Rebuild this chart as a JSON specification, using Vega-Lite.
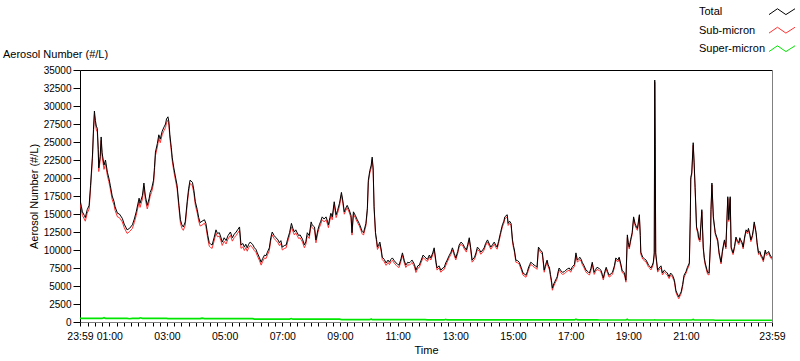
{
"$schema":"https://vega.github.io/schema/vega-lite/v6.json",
"width":692,"height":252,"autosize":"none",
"padding":{"left":80,"top":70,"right":28,"bottom":39},
"background":"#ffffff",
"title":{"text":"Aerosol Number (#/L)","anchor":"start","frame":"group","dx":-77,"offset":0,"dy":55,"fontSize":11,"fontWeight":"normal","font":"Liberation Sans","color":"#000000"},
"config":{"font":"Liberation Sans","view":{"stroke":null},"axis":{"labelFont":"Liberation Sans","titleFont":"Liberation Sans","labelColor":"#000000","titleColor":"#000000","tickColor":"#000000","grid":false}},
"data":{"values":[
{"time":"2000-01-01T23:59","total":17000,"sub":16500,"super":500},
{"time":"2000-01-02T00:02","total":16000,"sub":15500,"super":500},
{"time":"2000-01-02T00:04","total":15300,"sub":14800,"super":500},
{"time":"2000-01-02T00:08","total":14800,"sub":14300,"super":500},
{"time":"2000-01-02T00:10","total":14500,"sub":14000,"super":500},
{"time":"2000-01-02T00:14","total":15600,"sub":15100,"super":500},
{"time":"2000-01-02T00:18","total":16200,"sub":15700,"super":500},
{"time":"2000-01-02T00:21","total":19000,"sub":18500,"super":500},
{"time":"2000-01-02T00:25","total":23200,"sub":22700,"super":500},
{"time":"2000-01-02T00:27","total":26700,"sub":26200,"super":500},
{"time":"2000-01-02T00:29","total":29300,"sub":28800,"super":500},
{"time":"2000-01-02T00:31","total":28000,"sub":27500,"super":500},
{"time":"2000-01-02T00:33","total":27200,"sub":26700,"super":500},
{"time":"2000-01-02T00:35","total":26900,"sub":26400,"super":500},
{"time":"2000-01-02T00:37","total":24000,"sub":23500,"super":500},
{"time":"2000-01-02T00:38","total":21400,"sub":20900,"super":500},
{"time":"2000-01-02T00:41","total":23000,"sub":22500,"super":500},
{"time":"2000-01-02T00:43","total":25700,"sub":25200,"super":500},
{"time":"2000-01-02T00:45","total":23500,"sub":23000,"super":500},
{"time":"2000-01-02T00:49","total":21800,"sub":21200,"super":600},
{"time":"2000-01-02T00:52","total":22500,"sub":22000,"super":500},
{"time":"2000-01-02T00:56","total":20800,"sub":20300,"super":500},
{"time":"2000-01-02T00:59","total":20000,"sub":19500,"super":500},
{"time":"2000-01-02T01:02","total":19000,"sub":18500,"super":500},
{"time":"2000-01-02T01:06","total":17500,"sub":17000,"super":500},
{"time":"2000-01-02T01:10","total":16700,"sub":16200,"super":500},
{"time":"2000-01-02T01:12","total":16000,"sub":15500,"super":500},
{"time":"2000-01-02T01:17","total":15100,"sub":14600,"super":500},
{"time":"2000-01-02T01:21","total":15000,"sub":14500,"super":500},
{"time":"2000-01-02T01:27","total":14400,"sub":13900,"super":500},
{"time":"2000-01-02T01:31","total":13600,"sub":13100,"super":500},
{"time":"2000-01-02T01:37","total":12800,"sub":12300,"super":500},
{"time":"2000-01-02T01:42","total":13000,"sub":12550,"super":450},
{"time":"2000-01-02T01:48","total":13500,"sub":13000,"super":500},
{"time":"2000-01-02T01:52","total":14300,"sub":13800,"super":500},
{"time":"2000-01-02T01:56","total":15300,"sub":14800,"super":500},
{"time":"2000-01-02T02:02","total":17200,"sub":16700,"super":500},
{"time":"2000-01-02T02:04","total":16500,"sub":15920,"super":580},
{"time":"2000-01-02T02:09","total":17600,"sub":17100,"super":500},
{"time":"2000-01-02T02:12","total":19300,"sub":18800,"super":500},
{"time":"2000-01-02T02:15","total":17500,"sub":17000,"super":500},
{"time":"2000-01-02T02:19","total":16200,"sub":15700,"super":500},
{"time":"2000-01-02T02:23","total":17200,"sub":16700,"super":500},
{"time":"2000-01-02T02:25","total":18000,"sub":17500,"super":500},
{"time":"2000-01-02T02:28","total":18500,"sub":18000,"super":500},
{"time":"2000-01-02T02:32","total":19700,"sub":19200,"super":500},
{"time":"2000-01-02T02:34","total":21500,"sub":21000,"super":500},
{"time":"2000-01-02T02:36","total":23600,"sub":23100,"super":500},
{"time":"2000-01-02T02:40","total":24800,"sub":24300,"super":500},
{"time":"2000-01-02T02:43","total":26000,"sub":25500,"super":500},
{"time":"2000-01-02T02:46","total":25400,"sub":24900,"super":500},
{"time":"2000-01-02T02:50","total":26500,"sub":26000,"super":500},
{"time":"2000-01-02T02:54","total":27100,"sub":26600,"super":500},
{"time":"2000-01-02T02:57","total":27500,"sub":27000,"super":500},
{"time":"2000-01-02T02:59","total":28200,"sub":27700,"super":500},
{"time":"2000-01-02T03:02","total":28500,"sub":28030,"super":470},
{"time":"2000-01-02T03:04","total":27800,"sub":27330,"super":470},
{"time":"2000-01-02T03:06","total":26000,"sub":25530,"super":470},
{"time":"2000-01-02T03:09","total":24200,"sub":23730,"super":470},
{"time":"2000-01-02T03:11","total":22800,"sub":22330,"super":470},
{"time":"2000-01-02T03:14","total":21500,"sub":21030,"super":470},
{"time":"2000-01-02T03:17","total":20400,"sub":19930,"super":470},
{"time":"2000-01-02T03:21","total":19000,"sub":18530,"super":470},
{"time":"2000-01-02T03:25","total":16200,"sub":15730,"super":470},
{"time":"2000-01-02T03:28","total":14200,"sub":13730,"super":470},
{"time":"2000-01-02T03:31","total":13500,"sub":13030,"super":470},
{"time":"2000-01-02T03:34","total":13200,"sub":12730,"super":470},
{"time":"2000-01-02T03:38","total":13900,"sub":13430,"super":470},
{"time":"2000-01-02T03:42","total":16700,"sub":16230,"super":470},
{"time":"2000-01-02T03:45","total":18500,"sub":18030,"super":470},
{"time":"2000-01-02T03:48","total":19700,"sub":19230,"super":470},
{"time":"2000-01-02T03:53","total":19400,"sub":18930,"super":470},
{"time":"2000-01-02T03:56","total":18300,"sub":17830,"super":470},
{"time":"2000-01-02T03:59","total":16700,"sub":16230,"super":470},
{"time":"2000-01-02T04:03","total":15600,"sub":15130,"super":470},
{"time":"2000-01-02T04:06","total":14500,"sub":14030,"super":470},
{"time":"2000-01-02T04:09","total":13800,"sub":13330,"super":470},
{"time":"2000-01-02T04:13","total":14000,"sub":13460,"super":540},
{"time":"2000-01-02T04:18","total":14200,"sub":13730,"super":470},
{"time":"2000-01-02T04:21","total":13700,"sub":13230,"super":470},
{"time":"2000-01-02T04:25","total":12000,"sub":11530,"super":470},
{"time":"2000-01-02T04:28","total":11000,"sub":10530,"super":470},
{"time":"2000-01-02T04:31","total":10800,"sub":10330,"super":470},
{"time":"2000-01-02T04:34","total":10700,"sub":10230,"super":470},
{"time":"2000-01-02T04:38","total":11700,"sub":11230,"super":470},
{"time":"2000-01-02T04:42","total":12800,"sub":12330,"super":470},
{"time":"2000-01-02T04:45","total":12300,"sub":11830,"super":470},
{"time":"2000-01-02T04:49","total":12400,"sub":11930,"super":470},
{"time":"2000-01-02T04:52","total":11800,"sub":11330,"super":470},
{"time":"2000-01-02T04:55","total":11100,"sub":10630,"super":470},
{"time":"2000-01-02T04:59","total":11700,"sub":11230,"super":470},
{"time":"2000-01-02T05:03","total":11300,"sub":10830,"super":470},
{"time":"2000-01-02T05:07","total":12000,"sub":11530,"super":470},
{"time":"2000-01-02T05:12","total":12500,"sub":12030,"super":470},
{"time":"2000-01-02T05:16","total":11700,"sub":11230,"super":470},
{"time":"2000-01-02T05:20","total":12200,"sub":11730,"super":470},
{"time":"2000-01-02T05:24","total":12500,"sub":12030,"super":470},
{"time":"2000-01-02T05:27","total":12800,"sub":12330,"super":470},
{"time":"2000-01-02T05:31","total":13200,"sub":12730,"super":470},
{"time":"2000-01-02T05:34","total":10700,"sub":10230,"super":470},
{"time":"2000-01-02T05:38","total":10900,"sub":10430,"super":470},
{"time":"2000-01-02T05:41","total":10400,"sub":9930,"super":470},
{"time":"2000-01-02T05:44","total":10800,"sub":10330,"super":470},
{"time":"2000-01-02T05:47","total":10300,"sub":9830,"super":470},
{"time":"2000-01-02T05:50","total":10800,"sub":10330,"super":470},
{"time":"2000-01-02T05:53","total":11100,"sub":10630,"super":470},
{"time":"2000-01-02T05:58","total":10800,"sub":10330,"super":470},
{"time":"2000-01-02T06:02","total":10300,"sub":9900,"super":400},
{"time":"2000-01-02T06:05","total":10100,"sub":9700,"super":400},
{"time":"2000-01-02T06:08","total":9600,"sub":9200,"super":400},
{"time":"2000-01-02T06:12","total":9000,"sub":8600,"super":400},
{"time":"2000-01-02T06:16","total":8300,"sub":7900,"super":400},
{"time":"2000-01-02T06:19","total":8800,"sub":8400,"super":400},
{"time":"2000-01-02T06:23","total":9300,"sub":8900,"super":400},
{"time":"2000-01-02T06:26","total":9200,"sub":8800,"super":400},
{"time":"2000-01-02T06:29","total":9700,"sub":9300,"super":400},
{"time":"2000-01-02T06:33","total":10300,"sub":9900,"super":400},
{"time":"2000-01-02T06:36","total":11700,"sub":11300,"super":400},
{"time":"2000-01-02T06:39","total":12500,"sub":12100,"super":400},
{"time":"2000-01-02T06:43","total":12000,"sub":11600,"super":400},
{"time":"2000-01-02T06:47","total":11700,"sub":11300,"super":400},
{"time":"2000-01-02T06:51","total":11400,"sub":11000,"super":400},
{"time":"2000-01-02T06:54","total":11000,"sub":10600,"super":400},
{"time":"2000-01-02T06:57","total":11300,"sub":10900,"super":400},
{"time":"2000-01-02T07:00","total":10400,"sub":10000,"super":400},
{"time":"2000-01-02T07:04","total":10600,"sub":10200,"super":400},
{"time":"2000-01-02T07:08","total":10700,"sub":10300,"super":400},
{"time":"2000-01-02T07:11","total":11500,"sub":11100,"super":400},
{"time":"2000-01-02T07:15","total":12400,"sub":12000,"super":400},
{"time":"2000-01-02T07:19","total":13700,"sub":13220,"super":480},
{"time":"2000-01-02T07:22","total":13000,"sub":12600,"super":400},
{"time":"2000-01-02T07:25","total":12500,"sub":12100,"super":400},
{"time":"2000-01-02T07:28","total":12800,"sub":12400,"super":400},
{"time":"2000-01-02T07:31","total":12400,"sub":12000,"super":400},
{"time":"2000-01-02T07:34","total":12000,"sub":11600,"super":400},
{"time":"2000-01-02T07:37","total":12100,"sub":11700,"super":400},
{"time":"2000-01-02T07:42","total":11500,"sub":11100,"super":400},
{"time":"2000-01-02T07:46","total":10700,"sub":10300,"super":400},
{"time":"2000-01-02T07:49","total":11200,"sub":10800,"super":400},
{"time":"2000-01-02T07:52","total":12400,"sub":12000,"super":400},
{"time":"2000-01-02T07:56","total":12000,"sub":11600,"super":400},
{"time":"2000-01-02T08:00","total":13900,"sub":13500,"super":400},
{"time":"2000-01-02T08:02","total":13500,"sub":13100,"super":400},
{"time":"2000-01-02T08:07","total":13200,"sub":12800,"super":400},
{"time":"2000-01-02T08:10","total":11400,"sub":11000,"super":400},
{"time":"2000-01-02T08:14","total":12800,"sub":12400,"super":400},
{"time":"2000-01-02T08:17","total":13500,"sub":13100,"super":400},
{"time":"2000-01-02T08:20","total":14000,"sub":13600,"super":400},
{"time":"2000-01-02T08:23","total":14600,"sub":14200,"super":400},
{"time":"2000-01-02T08:27","total":14300,"sub":13900,"super":400},
{"time":"2000-01-02T08:31","total":14600,"sub":14200,"super":400},
{"time":"2000-01-02T08:34","total":14000,"sub":13600,"super":400},
{"time":"2000-01-02T08:36","total":13500,"sub":13100,"super":400},
{"time":"2000-01-02T08:39","total":14500,"sub":14100,"super":400},
{"time":"2000-01-02T08:41","total":15100,"sub":14700,"super":400},
{"time":"2000-01-02T08:44","total":14600,"sub":14200,"super":400},
{"time":"2000-01-02T08:48","total":16700,"sub":16300,"super":400},
{"time":"2000-01-02T08:52","total":14900,"sub":14500,"super":400},
{"time":"2000-01-02T08:55","total":15500,"sub":15100,"super":400},
{"time":"2000-01-02T08:59","total":16500,"sub":16100,"super":400},
{"time":"2000-01-02T09:03","total":18000,"sub":17670,"super":330},
{"time":"2000-01-02T09:06","total":16800,"sub":16470,"super":330},
{"time":"2000-01-02T09:09","total":15300,"sub":14970,"super":330},
{"time":"2000-01-02T09:12","total":15800,"sub":15470,"super":330},
{"time":"2000-01-02T09:15","total":16200,"sub":15870,"super":330},
{"time":"2000-01-02T09:19","total":15600,"sub":15270,"super":330},
{"time":"2000-01-02T09:23","total":14800,"sub":14470,"super":330},
{"time":"2000-01-02T09:25","total":12400,"sub":12070,"super":330},
{"time":"2000-01-02T09:28","total":15300,"sub":14970,"super":330},
{"time":"2000-01-02T09:32","total":14800,"sub":14470,"super":330},
{"time":"2000-01-02T09:36","total":14200,"sub":13870,"super":330},
{"time":"2000-01-02T09:40","total":13700,"sub":13370,"super":330},
{"time":"2000-01-02T09:44","total":13000,"sub":12670,"super":330},
{"time":"2000-01-02T09:46","total":12600,"sub":12270,"super":330},
{"time":"2000-01-02T09:49","total":12400,"sub":12070,"super":330},
{"time":"2000-01-02T09:54","total":13700,"sub":13370,"super":330},
{"time":"2000-01-02T09:57","total":15800,"sub":15470,"super":330},
{"time":"2000-01-02T09:59","total":19700,"sub":19370,"super":330},
{"time":"2000-01-02T10:02","total":21000,"sub":20670,"super":330},
{"time":"2000-01-02T10:05","total":21800,"sub":21380,"super":420},
{"time":"2000-01-02T10:07","total":22900,"sub":22570,"super":330},
{"time":"2000-01-02T10:09","total":21400,"sub":21070,"super":330},
{"time":"2000-01-02T10:11","total":16000,"sub":15670,"super":330},
{"time":"2000-01-02T10:14","total":12400,"sub":12070,"super":330},
{"time":"2000-01-02T10:16","total":11500,"sub":11170,"super":330},
{"time":"2000-01-02T10:18","total":10400,"sub":10070,"super":330},
{"time":"2000-01-02T10:21","total":10800,"sub":10470,"super":330},
{"time":"2000-01-02T10:23","total":11100,"sub":10770,"super":330},
{"time":"2000-01-02T10:26","total":10000,"sub":9670,"super":330},
{"time":"2000-01-02T10:28","total":9000,"sub":8670,"super":330},
{"time":"2000-01-02T10:32","total":8700,"sub":8370,"super":330},
{"time":"2000-01-02T10:36","total":8200,"sub":7870,"super":330},
{"time":"2000-01-02T10:40","total":8600,"sub":8270,"super":330},
{"time":"2000-01-02T10:43","total":8300,"sub":7970,"super":330},
{"time":"2000-01-02T10:46","total":8700,"sub":8370,"super":330},
{"time":"2000-01-02T10:49","total":8900,"sub":8570,"super":330},
{"time":"2000-01-02T10:53","total":8500,"sub":8170,"super":330},
{"time":"2000-01-02T10:57","total":8200,"sub":7870,"super":330},
{"time":"2000-01-02T11:00","total":8000,"sub":7670,"super":330},
{"time":"2000-01-02T11:03","total":7900,"sub":7570,"super":330},
{"time":"2000-01-02T11:07","total":8800,"sub":8470,"super":330},
{"time":"2000-01-02T11:10","total":9600,"sub":9270,"super":330},
{"time":"2000-01-02T11:14","total":8500,"sub":8170,"super":330},
{"time":"2000-01-02T11:17","total":7900,"sub":7570,"super":330},
{"time":"2000-01-02T11:21","total":8300,"sub":7970,"super":330},
{"time":"2000-01-02T11:24","total":8200,"sub":7870,"super":330},
{"time":"2000-01-02T11:27","total":8400,"sub":8070,"super":330},
{"time":"2000-01-02T11:30","total":8600,"sub":8270,"super":330},
{"time":"2000-01-02T11:35","total":8000,"sub":7670,"super":330},
{"time":"2000-01-02T11:38","total":7200,"sub":6870,"super":330},
{"time":"2000-01-02T11:42","total":7800,"sub":7470,"super":330},
{"time":"2000-01-02T11:45","total":7900,"sub":7570,"super":330},
{"time":"2000-01-02T11:49","total":8600,"sub":8270,"super":330},
{"time":"2000-01-02T11:53","total":9300,"sub":8970,"super":330},
{"time":"2000-01-02T11:57","total":9000,"sub":8670,"super":330},
{"time":"2000-01-02T12:02","total":8700,"sub":8410,"super":290},
{"time":"2000-01-02T12:06","total":9300,"sub":9010,"super":290},
{"time":"2000-01-02T12:09","total":8900,"sub":8610,"super":290},
{"time":"2000-01-02T12:13","total":9600,"sub":9310,"super":290},
{"time":"2000-01-02T12:16","total":10300,"sub":10010,"super":290},
{"time":"2000-01-02T12:20","total":8300,"sub":8010,"super":290},
{"time":"2000-01-02T12:22","total":7500,"sub":7210,"super":290},
{"time":"2000-01-02T12:26","total":7800,"sub":7510,"super":290},
{"time":"2000-01-02T12:30","total":7200,"sub":6910,"super":290},
{"time":"2000-01-02T12:34","total":7500,"sub":7210,"super":290},
{"time":"2000-01-02T12:37","total":7600,"sub":7310,"super":290},
{"time":"2000-01-02T12:40","total":8200,"sub":7820,"super":380},
{"time":"2000-01-02T12:43","total":8600,"sub":8310,"super":290},
{"time":"2000-01-02T12:47","total":9200,"sub":8910,"super":290},
{"time":"2000-01-02T12:51","total":9700,"sub":9410,"super":290},
{"time":"2000-01-02T12:54","total":10300,"sub":10010,"super":290},
{"time":"2000-01-02T12:58","total":9500,"sub":9210,"super":290},
{"time":"2000-01-02T13:01","total":8900,"sub":8610,"super":290},
{"time":"2000-01-02T13:05","total":9800,"sub":9510,"super":290},
{"time":"2000-01-02T13:08","total":10700,"sub":10410,"super":290},
{"time":"2000-01-02T13:12","total":11100,"sub":10810,"super":290},
{"time":"2000-01-02T13:16","total":10800,"sub":10510,"super":290},
{"time":"2000-01-02T13:19","total":10400,"sub":10110,"super":290},
{"time":"2000-01-02T13:23","total":10000,"sub":9710,"super":290},
{"time":"2000-01-02T13:26","total":10800,"sub":10510,"super":290},
{"time":"2000-01-02T13:29","total":11700,"sub":11410,"super":290},
{"time":"2000-01-02T13:32","total":10300,"sub":10010,"super":290},
{"time":"2000-01-02T13:35","total":8600,"sub":8310,"super":290},
{"time":"2000-01-02T13:40","total":9000,"sub":8710,"super":290},
{"time":"2000-01-02T13:43","total":9600,"sub":9310,"super":290},
{"time":"2000-01-02T13:46","total":10400,"sub":10110,"super":290},
{"time":"2000-01-02T13:50","total":10100,"sub":9810,"super":290},
{"time":"2000-01-02T13:53","total":9700,"sub":9410,"super":290},
{"time":"2000-01-02T13:57","total":10000,"sub":9710,"super":290},
{"time":"2000-01-02T14:00","total":10300,"sub":10010,"super":290},
{"time":"2000-01-02T14:03","total":10900,"sub":10610,"super":290},
{"time":"2000-01-02T14:07","total":11400,"sub":11110,"super":290},
{"time":"2000-01-02T14:11","total":10800,"sub":10510,"super":290},
{"time":"2000-01-02T14:14","total":10400,"sub":10110,"super":290},
{"time":"2000-01-02T14:18","total":10800,"sub":10510,"super":290},
{"time":"2000-01-02T14:21","total":11100,"sub":10810,"super":290},
{"time":"2000-01-02T14:24","total":10700,"sub":10410,"super":290},
{"time":"2000-01-02T14:27","total":10400,"sub":10110,"super":290},
{"time":"2000-01-02T14:30","total":11200,"sub":10910,"super":290},
{"time":"2000-01-02T14:34","total":12400,"sub":12110,"super":290},
{"time":"2000-01-02T14:38","total":13500,"sub":13210,"super":290},
{"time":"2000-01-02T14:41","total":14000,"sub":13710,"super":290},
{"time":"2000-01-02T14:43","total":14600,"sub":14310,"super":290},
{"time":"2000-01-02T14:48","total":14900,"sub":14610,"super":290},
{"time":"2000-01-02T14:50","total":13700,"sub":13410,"super":290},
{"time":"2000-01-02T14:53","total":14000,"sub":13710,"super":290},
{"time":"2000-01-02T14:56","total":13700,"sub":13410,"super":290},
{"time":"2000-01-02T14:59","total":11400,"sub":11110,"super":290},
{"time":"2000-01-02T15:01","total":10600,"sub":10310,"super":290},
{"time":"2000-01-02T15:03","total":10000,"sub":9710,"super":290},
{"time":"2000-01-02T15:06","total":8600,"sub":8310,"super":290},
{"time":"2000-01-02T15:10","total":8500,"sub":8210,"super":290},
{"time":"2000-01-02T15:13","total":8300,"sub":8010,"super":290},
{"time":"2000-01-02T15:17","total":7600,"sub":7310,"super":290},
{"time":"2000-01-02T15:21","total":6800,"sub":6510,"super":290},
{"time":"2000-01-02T15:27","total":6500,"sub":6210,"super":290},
{"time":"2000-01-02T15:30","total":7000,"sub":6710,"super":290},
{"time":"2000-01-02T15:32","total":7500,"sub":7210,"super":290},
{"time":"2000-01-02T15:35","total":8000,"sub":7710,"super":290},
{"time":"2000-01-02T15:37","total":8300,"sub":8010,"super":290},
{"time":"2000-01-02T15:41","total":8100,"sub":7810,"super":290},
{"time":"2000-01-02T15:44","total":7900,"sub":7610,"super":290},
{"time":"2000-01-02T15:47","total":7800,"sub":7510,"super":290},
{"time":"2000-01-02T15:50","total":7600,"sub":7310,"super":290},
{"time":"2000-01-02T15:53","total":10400,"sub":10110,"super":290},
{"time":"2000-01-02T15:57","total":10000,"sub":9710,"super":290},
{"time":"2000-01-02T16:01","total":9700,"sub":9410,"super":290},
{"time":"2000-01-02T16:03","total":8500,"sub":8210,"super":290},
{"time":"2000-01-02T16:05","total":7200,"sub":6910,"super":290},
{"time":"2000-01-02T16:08","total":8000,"sub":7710,"super":290},
{"time":"2000-01-02T16:11","total":8600,"sub":8310,"super":290},
{"time":"2000-01-02T16:13","total":8000,"sub":7710,"super":290},
{"time":"2000-01-02T16:16","total":7500,"sub":7210,"super":290},
{"time":"2000-01-02T16:18","total":6600,"sub":6310,"super":290},
{"time":"2000-01-02T16:20","total":5800,"sub":5510,"super":290},
{"time":"2000-01-02T16:22","total":4700,"sub":4410,"super":290},
{"time":"2000-01-02T16:25","total":5300,"sub":5010,"super":290},
{"time":"2000-01-02T16:27","total":5600,"sub":5310,"super":290},
{"time":"2000-01-02T16:30","total":6000,"sub":5710,"super":290},
{"time":"2000-01-02T16:32","total":6300,"sub":6010,"super":290},
{"time":"2000-01-02T16:34","total":7000,"sub":6710,"super":290},
{"time":"2000-01-02T16:36","total":7500,"sub":7210,"super":290},
{"time":"2000-01-02T16:40","total":7100,"sub":6810,"super":290},
{"time":"2000-01-02T16:43","total":6900,"sub":6610,"super":290},
{"time":"2000-01-02T16:47","total":7000,"sub":6710,"super":290},
{"time":"2000-01-02T16:50","total":7200,"sub":6910,"super":290},
{"time":"2000-01-02T16:54","total":7400,"sub":7110,"super":290},
{"time":"2000-01-02T16:57","total":7500,"sub":7210,"super":290},
{"time":"2000-01-02T17:00","total":7200,"sub":6910,"super":290},
{"time":"2000-01-02T17:03","total":7600,"sub":7310,"super":290},
{"time":"2000-01-02T17:08","total":8000,"sub":7710,"super":290},
{"time":"2000-01-02T17:11","total":9600,"sub":9200,"super":400},
{"time":"2000-01-02T17:14","total":8600,"sub":8310,"super":290},
{"time":"2000-01-02T17:17","total":8800,"sub":8510,"super":290},
{"time":"2000-01-02T17:19","total":9000,"sub":8710,"super":290},
{"time":"2000-01-02T17:22","total":8700,"sub":8410,"super":290},
{"time":"2000-01-02T17:24","total":8300,"sub":8010,"super":290},
{"time":"2000-01-02T17:28","total":7800,"sub":7510,"super":290},
{"time":"2000-01-02T17:32","total":7200,"sub":6910,"super":290},
{"time":"2000-01-02T17:36","total":7000,"sub":6710,"super":290},
{"time":"2000-01-02T17:39","total":6800,"sub":6510,"super":290},
{"time":"2000-01-02T17:42","total":7400,"sub":7110,"super":290},
{"time":"2000-01-02T17:45","total":8300,"sub":8010,"super":290},
{"time":"2000-01-02T17:47","total":7600,"sub":7310,"super":290},
{"time":"2000-01-02T17:49","total":6900,"sub":6610,"super":290},
{"time":"2000-01-02T17:52","total":7300,"sub":7010,"super":290},
{"time":"2000-01-02T17:55","total":7600,"sub":7310,"super":290},
{"time":"2000-01-02T18:00","total":7400,"sub":7130,"super":270},
{"time":"2000-01-02T18:03","total":7200,"sub":6930,"super":270},
{"time":"2000-01-02T18:06","total":6600,"sub":6330,"super":270},
{"time":"2000-01-02T18:08","total":6100,"sub":5830,"super":270},
{"time":"2000-01-02T18:11","total":7000,"sub":6730,"super":270},
{"time":"2000-01-02T18:14","total":7600,"sub":7330,"super":270},
{"time":"2000-01-02T18:17","total":7000,"sub":6730,"super":270},
{"time":"2000-01-02T18:20","total":6500,"sub":6230,"super":270},
{"time":"2000-01-02T18:24","total":6700,"sub":6430,"super":270},
{"time":"2000-01-02T18:27","total":6900,"sub":6630,"super":270},
{"time":"2000-01-02T18:31","total":7800,"sub":7530,"super":270},
{"time":"2000-01-02T18:34","total":8900,"sub":8630,"super":270},
{"time":"2000-01-02T18:38","total":8600,"sub":8330,"super":270},
{"time":"2000-01-02T18:41","total":9000,"sub":8730,"super":270},
{"time":"2000-01-02T18:45","total":7900,"sub":7630,"super":270},
{"time":"2000-01-02T18:47","total":7200,"sub":6930,"super":270},
{"time":"2000-01-02T18:52","total":6800,"sub":6530,"super":270},
{"time":"2000-01-02T18:55","total":5800,"sub":5530,"super":270},
{"time":"2000-01-02T18:58","total":12100,"sub":11720,"super":380},
{"time":"2000-01-02T19:00","total":11000,"sub":10730,"super":270},
{"time":"2000-01-02T19:02","total":10400,"sub":10130,"super":270},
{"time":"2000-01-02T19:05","total":11500,"sub":11230,"super":270},
{"time":"2000-01-02T19:08","total":12400,"sub":12130,"super":270},
{"time":"2000-01-02T19:11","total":14600,"sub":14330,"super":270},
{"time":"2000-01-02T19:14","total":13700,"sub":13430,"super":270},
{"time":"2000-01-02T19:17","total":13200,"sub":12930,"super":270},
{"time":"2000-01-02T19:19","total":13000,"sub":12730,"super":270},
{"time":"2000-01-02T19:23","total":14900,"sub":14630,"super":270},
{"time":"2000-01-02T19:25","total":12000,"sub":11730,"super":270},
{"time":"2000-01-02T19:26","total":9700,"sub":9430,"super":270},
{"time":"2000-01-02T19:30","total":9000,"sub":8730,"super":270},
{"time":"2000-01-02T19:33","total":8800,"sub":8530,"super":270},
{"time":"2000-01-02T19:37","total":8600,"sub":8330,"super":270},
{"time":"2000-01-02T19:40","total":8200,"sub":7930,"super":270},
{"time":"2000-01-02T19:42","total":7900,"sub":7630,"super":270},
{"time":"2000-01-02T19:45","total":7700,"sub":7430,"super":270},
{"time":"2000-01-02T19:47","total":7500,"sub":7230,"super":270},
{"time":"2000-01-02T19:50","total":7900,"sub":7630,"super":270},
{"time":"2000-01-02T19:52","total":8300,"sub":8030,"super":270},
{"time":"2000-01-02T19:54","total":9600,"sub":9330,"super":270},
{"time":"2000-01-02T19:55","total":33600,"sub":33300,"super":300},
{"time":"2000-01-02T19:56","total":24600,"sub":24330,"super":270},
{"time":"2000-01-02T19:57","total":9600,"sub":9330,"super":270},
{"time":"2000-01-02T20:01","total":7200,"sub":6930,"super":270},
{"time":"2000-01-02T20:04","total":7500,"sub":7230,"super":270},
{"time":"2000-01-02T20:08","total":7800,"sub":7530,"super":270},
{"time":"2000-01-02T20:11","total":6800,"sub":6530,"super":270},
{"time":"2000-01-02T20:15","total":7200,"sub":6930,"super":270},
{"time":"2000-01-02T20:18","total":7000,"sub":6730,"super":270},
{"time":"2000-01-02T20:21","total":6800,"sub":6530,"super":270},
{"time":"2000-01-02T20:25","total":6300,"sub":6030,"super":270},
{"time":"2000-01-02T20:28","total":6800,"sub":6530,"super":270},
{"time":"2000-01-02T20:32","total":6500,"sub":6230,"super":270},
{"time":"2000-01-02T20:36","total":5800,"sub":5530,"super":270},
{"time":"2000-01-02T20:39","total":4400,"sub":4130,"super":270},
{"time":"2000-01-02T20:42","total":3900,"sub":3630,"super":270},
{"time":"2000-01-02T20:45","total":3500,"sub":3230,"super":270},
{"time":"2000-01-02T20:47","total":3800,"sub":3530,"super":270},
{"time":"2000-01-02T20:50","total":4200,"sub":3930,"super":270},
{"time":"2000-01-02T20:53","total":5200,"sub":4930,"super":270},
{"time":"2000-01-02T20:56","total":6500,"sub":6230,"super":270},
{"time":"2000-01-02T21:00","total":7000,"sub":6730,"super":270},
{"time":"2000-01-02T21:03","total":7600,"sub":7330,"super":270},
{"time":"2000-01-02T21:07","total":8200,"sub":7930,"super":270},
{"time":"2000-01-02T21:09","total":14600,"sub":14330,"super":270},
{"time":"2000-01-02T21:10","total":20100,"sub":19830,"super":270},
{"time":"2000-01-02T21:12","total":20700,"sub":20430,"super":270},
{"time":"2000-01-02T21:15","total":24900,"sub":24550,"super":350},
{"time":"2000-01-02T21:17","total":22100,"sub":21830,"super":270},
{"time":"2000-01-02T21:19","total":18700,"sub":18430,"super":270},
{"time":"2000-01-02T21:22","total":13200,"sub":12930,"super":270},
{"time":"2000-01-02T21:25","total":12500,"sub":12230,"super":270},
{"time":"2000-01-02T21:26","total":11800,"sub":11530,"super":270},
{"time":"2000-01-02T21:29","total":11400,"sub":11130,"super":270},
{"time":"2000-01-02T21:33","total":15600,"sub":15330,"super":270},
{"time":"2000-01-02T21:36","total":10400,"sub":10130,"super":270},
{"time":"2000-01-02T21:38","total":9000,"sub":8730,"super":270},
{"time":"2000-01-02T21:40","total":8200,"sub":7930,"super":270},
{"time":"2000-01-02T21:45","total":6900,"sub":6630,"super":270},
{"time":"2000-01-02T21:48","total":6800,"sub":6530,"super":270},
{"time":"2000-01-02T21:51","total":11000,"sub":10730,"super":270},
{"time":"2000-01-02T21:52","total":15600,"sub":15330,"super":270},
{"time":"2000-01-02T21:54","total":19300,"sub":19030,"super":270},
{"time":"2000-01-02T21:57","total":14600,"sub":14330,"super":270},
{"time":"2000-01-02T22:01","total":12400,"sub":12160,"super":240},
{"time":"2000-01-02T22:06","total":11400,"sub":11160,"super":240},
{"time":"2000-01-02T22:09","total":9600,"sub":9360,"super":240},
{"time":"2000-01-02T22:13","total":8300,"sub":8060,"super":240},
{"time":"2000-01-02T22:16","total":10000,"sub":9760,"super":240},
{"time":"2000-01-02T22:20","total":11400,"sub":11160,"super":240},
{"time":"2000-01-02T22:23","total":10400,"sub":10160,"super":240},
{"time":"2000-01-02T22:27","total":17400,"sub":17160,"super":240},
{"time":"2000-01-02T22:29","total":14200,"sub":13960,"super":240},
{"time":"2000-01-02T22:32","total":17400,"sub":17160,"super":240},
{"time":"2000-01-02T22:34","total":10400,"sub":10160,"super":240},
{"time":"2000-01-02T22:38","total":9600,"sub":9360,"super":240},
{"time":"2000-01-02T22:41","total":10500,"sub":10260,"super":240},
{"time":"2000-01-02T22:44","total":11800,"sub":11560,"super":240},
{"time":"2000-01-02T22:47","total":11300,"sub":11060,"super":240},
{"time":"2000-01-02T22:50","total":11000,"sub":10760,"super":240},
{"time":"2000-01-02T22:52","total":11700,"sub":11460,"super":240},
{"time":"2000-01-02T22:54","total":11400,"sub":11160,"super":240},
{"time":"2000-01-02T22:57","total":11000,"sub":10760,"super":240},
{"time":"2000-01-02T22:59","total":10400,"sub":10160,"super":240},
{"time":"2000-01-02T23:02","total":11800,"sub":11560,"super":240},
{"time":"2000-01-02T23:05","total":12800,"sub":12560,"super":240},
{"time":"2000-01-02T23:08","total":12500,"sub":12260,"super":240},
{"time":"2000-01-02T23:10","total":13000,"sub":12760,"super":240},
{"time":"2000-01-02T23:13","total":12200,"sub":11960,"super":240},
{"time":"2000-01-02T23:15","total":11400,"sub":11160,"super":240},
{"time":"2000-01-02T23:18","total":12000,"sub":11760,"super":240},
{"time":"2000-01-02T23:20","total":12800,"sub":12560,"super":240},
{"time":"2000-01-02T23:22","total":13900,"sub":13660,"super":240},
{"time":"2000-01-02T23:26","total":12400,"sub":12160,"super":240},
{"time":"2000-01-02T23:28","total":11000,"sub":10760,"super":240},
{"time":"2000-01-02T23:31","total":9600,"sub":9360,"super":240},
{"time":"2000-01-02T23:34","total":9800,"sub":9560,"super":240},
{"time":"2000-01-02T23:36","total":9300,"sub":9060,"super":240},
{"time":"2000-01-02T23:39","total":9000,"sub":8760,"super":240},
{"time":"2000-01-02T23:41","total":8600,"sub":8360,"super":240},
{"time":"2000-01-02T23:45","total":10000,"sub":9760,"super":240},
{"time":"2000-01-02T23:47","total":9500,"sub":9260,"super":240},
{"time":"2000-01-02T23:50","total":9600,"sub":9360,"super":240},
{"time":"2000-01-02T23:52","total":9800,"sub":9560,"super":240},
{"time":"2000-01-02T23:55","total":9300,"sub":9060,"super":240},
{"time":"2000-01-02T23:59","total":8900,"sub":8660,"super":240}
]},
"resolve":{"axis":{"x":"independent","y":"independent"}},
"layer":[
{"mark":{"type":"line","strokeWidth":1,"clip":true},
 "encoding":{
  "x":{"field":"time","type":"temporal",
   "scale":{"domain":[{"year":2000,"month":1,"date":1,"hours":23,"minutes":59},{"year":2000,"month":1,"date":2,"hours":23,"minutes":59}],"nice":false},
   "axis":{"orient":"bottom","title":"Time","titleFontSize":11,"titleFontWeight":"normal","titlePadding":3,"labelFontSize":10.5,"labelPadding":5,"tickSize":4,"tickColor":"#000000","domainColor":"#808080","labelOverlap":false,"labelFlush":false,"labelBound":false,
    "labelExpr":"(minutes(datum.value) == 59 || (minutes(datum.value) == 0 && hours(datum.value) % 2 == 1 && hours(datum.value) != 23)) ? timeFormat(datum.value, '%H:%M') : ''",
    "values":[
{"year":2000,"month":1,"date":1,"hours":23,"minutes":59},
{"year":2000,"month":1,"date":2,"hours":0,"minutes":15},{"year":2000,"month":1,"date":2,"hours":0,"minutes":30},{"year":2000,"month":1,"date":2,"hours":0,"minutes":45},
{"year":2000,"month":1,"date":2,"hours":1,"minutes":0},{"year":2000,"month":1,"date":2,"hours":1,"minutes":15},{"year":2000,"month":1,"date":2,"hours":1,"minutes":30},{"year":2000,"month":1,"date":2,"hours":1,"minutes":45},
{"year":2000,"month":1,"date":2,"hours":2,"minutes":0},{"year":2000,"month":1,"date":2,"hours":2,"minutes":15},{"year":2000,"month":1,"date":2,"hours":2,"minutes":30},{"year":2000,"month":1,"date":2,"hours":2,"minutes":45},
{"year":2000,"month":1,"date":2,"hours":3,"minutes":0},{"year":2000,"month":1,"date":2,"hours":3,"minutes":15},{"year":2000,"month":1,"date":2,"hours":3,"minutes":30},{"year":2000,"month":1,"date":2,"hours":3,"minutes":45},
{"year":2000,"month":1,"date":2,"hours":4,"minutes":0},{"year":2000,"month":1,"date":2,"hours":4,"minutes":15},{"year":2000,"month":1,"date":2,"hours":4,"minutes":30},{"year":2000,"month":1,"date":2,"hours":4,"minutes":45},
{"year":2000,"month":1,"date":2,"hours":5,"minutes":0},{"year":2000,"month":1,"date":2,"hours":5,"minutes":15},{"year":2000,"month":1,"date":2,"hours":5,"minutes":30},{"year":2000,"month":1,"date":2,"hours":5,"minutes":45},
{"year":2000,"month":1,"date":2,"hours":6,"minutes":0},{"year":2000,"month":1,"date":2,"hours":6,"minutes":15},{"year":2000,"month":1,"date":2,"hours":6,"minutes":30},{"year":2000,"month":1,"date":2,"hours":6,"minutes":45},
{"year":2000,"month":1,"date":2,"hours":7,"minutes":0},{"year":2000,"month":1,"date":2,"hours":7,"minutes":15},{"year":2000,"month":1,"date":2,"hours":7,"minutes":30},{"year":2000,"month":1,"date":2,"hours":7,"minutes":45},
{"year":2000,"month":1,"date":2,"hours":8,"minutes":0},{"year":2000,"month":1,"date":2,"hours":8,"minutes":15},{"year":2000,"month":1,"date":2,"hours":8,"minutes":30},{"year":2000,"month":1,"date":2,"hours":8,"minutes":45},
{"year":2000,"month":1,"date":2,"hours":9,"minutes":0},{"year":2000,"month":1,"date":2,"hours":9,"minutes":15},{"year":2000,"month":1,"date":2,"hours":9,"minutes":30},{"year":2000,"month":1,"date":2,"hours":9,"minutes":45},
{"year":2000,"month":1,"date":2,"hours":10,"minutes":0},{"year":2000,"month":1,"date":2,"hours":10,"minutes":15},{"year":2000,"month":1,"date":2,"hours":10,"minutes":30},{"year":2000,"month":1,"date":2,"hours":10,"minutes":45},
{"year":2000,"month":1,"date":2,"hours":11,"minutes":0},{"year":2000,"month":1,"date":2,"hours":11,"minutes":15},{"year":2000,"month":1,"date":2,"hours":11,"minutes":30},{"year":2000,"month":1,"date":2,"hours":11,"minutes":45},
{"year":2000,"month":1,"date":2,"hours":12,"minutes":0},{"year":2000,"month":1,"date":2,"hours":12,"minutes":15},{"year":2000,"month":1,"date":2,"hours":12,"minutes":30},{"year":2000,"month":1,"date":2,"hours":12,"minutes":45},
{"year":2000,"month":1,"date":2,"hours":13,"minutes":0},{"year":2000,"month":1,"date":2,"hours":13,"minutes":15},{"year":2000,"month":1,"date":2,"hours":13,"minutes":30},{"year":2000,"month":1,"date":2,"hours":13,"minutes":45},
{"year":2000,"month":1,"date":2,"hours":14,"minutes":0},{"year":2000,"month":1,"date":2,"hours":14,"minutes":15},{"year":2000,"month":1,"date":2,"hours":14,"minutes":30},{"year":2000,"month":1,"date":2,"hours":14,"minutes":45},
{"year":2000,"month":1,"date":2,"hours":15,"minutes":0},{"year":2000,"month":1,"date":2,"hours":15,"minutes":15},{"year":2000,"month":1,"date":2,"hours":15,"minutes":30},{"year":2000,"month":1,"date":2,"hours":15,"minutes":45},
{"year":2000,"month":1,"date":2,"hours":16,"minutes":0},{"year":2000,"month":1,"date":2,"hours":16,"minutes":15},{"year":2000,"month":1,"date":2,"hours":16,"minutes":30},{"year":2000,"month":1,"date":2,"hours":16,"minutes":45},
{"year":2000,"month":1,"date":2,"hours":17,"minutes":0},{"year":2000,"month":1,"date":2,"hours":17,"minutes":15},{"year":2000,"month":1,"date":2,"hours":17,"minutes":30},{"year":2000,"month":1,"date":2,"hours":17,"minutes":45},
{"year":2000,"month":1,"date":2,"hours":18,"minutes":0},{"year":2000,"month":1,"date":2,"hours":18,"minutes":15},{"year":2000,"month":1,"date":2,"hours":18,"minutes":30},{"year":2000,"month":1,"date":2,"hours":18,"minutes":45},
{"year":2000,"month":1,"date":2,"hours":19,"minutes":0},{"year":2000,"month":1,"date":2,"hours":19,"minutes":15},{"year":2000,"month":1,"date":2,"hours":19,"minutes":30},{"year":2000,"month":1,"date":2,"hours":19,"minutes":45},
{"year":2000,"month":1,"date":2,"hours":20,"minutes":0},{"year":2000,"month":1,"date":2,"hours":20,"minutes":15},{"year":2000,"month":1,"date":2,"hours":20,"minutes":30},{"year":2000,"month":1,"date":2,"hours":20,"minutes":45},
{"year":2000,"month":1,"date":2,"hours":21,"minutes":0},{"year":2000,"month":1,"date":2,"hours":21,"minutes":15},{"year":2000,"month":1,"date":2,"hours":21,"minutes":30},{"year":2000,"month":1,"date":2,"hours":21,"minutes":45},
{"year":2000,"month":1,"date":2,"hours":22,"minutes":0},{"year":2000,"month":1,"date":2,"hours":22,"minutes":15},{"year":2000,"month":1,"date":2,"hours":22,"minutes":30},{"year":2000,"month":1,"date":2,"hours":22,"minutes":45},
{"year":2000,"month":1,"date":2,"hours":23,"minutes":0},{"year":2000,"month":1,"date":2,"hours":23,"minutes":15},{"year":2000,"month":1,"date":2,"hours":23,"minutes":30},{"year":2000,"month":1,"date":2,"hours":23,"minutes":45},
{"year":2000,"month":1,"date":2,"hours":23,"minutes":59}
    ]}},
  "y":{"field":"sub","type":"quantitative","scale":{"domain":[0,35000],"nice":false,"zero":true},
   "axis":{"orient":"left","title":"Aerosol Number (#/L)","titleFontSize":11,"titleFontWeight":"normal","labelFontSize":10,"labelPadding":2,"tickSize":7,"domainColor":"#000000","format":"d",
    "values":[0,2500,5000,7500,10000,12500,15000,17500,20000,22500,25000,27500,30000,32500,35000]}},
  "color":{"datum":"Sub-micron","type":"nominal",
   "scale":{"domain":["Total","Sub-micron","Super-micron"],"range":["#000000","#ff3030","#00e600"]},
   "legend":{"title":null,"orient":"none","legendX":695,"legendY":-65,"padding":0,"symbolType":"M-2,0.4L-0.7,-0.5L0.6,0.4L2,-0.5","symbolSize":169,"symbolStrokeWidth":1,"symbolFillColor":"transparent","labelFontSize":11,"labelFont":"Liberation Sans","labelColor":"#000000","labelOffset":-90,"rowPadding":6.5}}
 }},
{"mark":{"type":"line","strokeWidth":1,"clip":true},
 "encoding":{
  "x":{"field":"time","type":"temporal","axis":{"orient":"top","labels":false,"ticks":false,"title":null,"domainColor":"#000000"}},
  "y":{"field":"total","type":"quantitative","axis":{"orient":"right","labels":false,"ticks":false,"title":null,"domainColor":"#808080"}},
  "color":{"datum":"Total","type":"nominal"}
 }},
{"mark":{"type":"line","strokeWidth":1.6,"clip":true},
 "encoding":{
  "x":{"field":"time","type":"temporal","axis":null},
  "y":{"field":"super","type":"quantitative","axis":null},
  "color":{"datum":"Super-micron","type":"nominal"}
 }}
]
}
